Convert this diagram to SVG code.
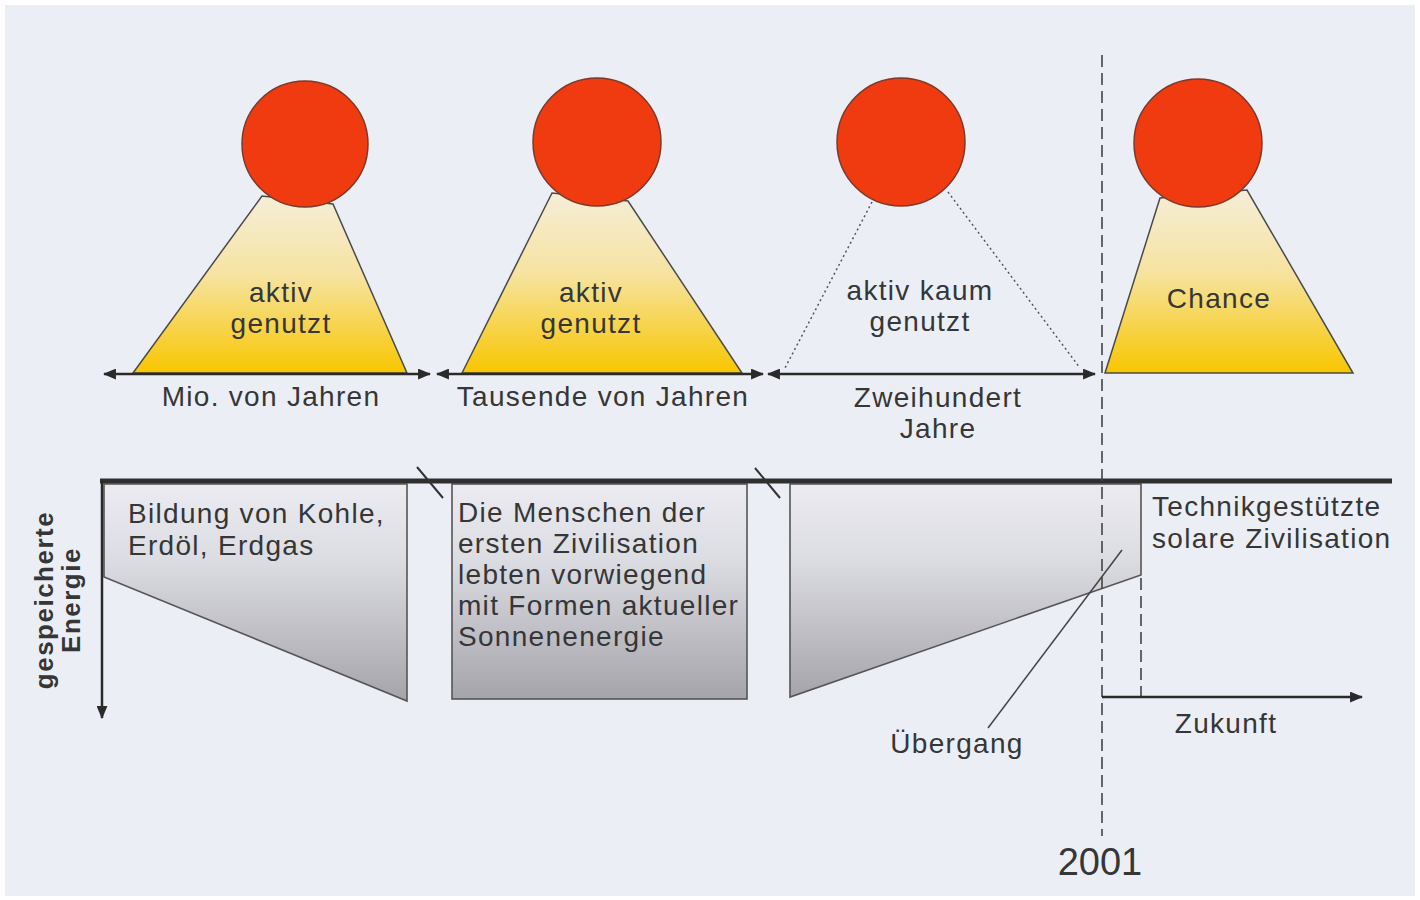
<svg xmlns="http://www.w3.org/2000/svg" width="1420" height="900" viewBox="0 0 1420 900">
<defs>
<linearGradient id="sunGrad" x1="0" y1="0" x2="0" y2="1">
<stop offset="0" stop-color="#f5eed8"/>
<stop offset="0.45" stop-color="#f6e3a0"/>
<stop offset="1" stop-color="#f8c600"/>
</linearGradient>
<linearGradient id="greyGrad" x1="0" y1="0" x2="0" y2="1">
<stop offset="0" stop-color="#ebebf1"/>
<stop offset="0.35" stop-color="#dcdce3"/>
<stop offset="1" stop-color="#a6a4ab"/>
</linearGradient>
<marker id="ah" viewBox="0 0 12 10" refX="11" refY="5" markerWidth="13" markerHeight="11" markerUnits="userSpaceOnUse" orient="auto-start-reverse">
<path d="M0,0 L12,5 L0,10 Z" fill="#2a2a2a"/>
</marker>
</defs>
<style>
.t{font-family:"Liberation Sans",Arial,sans-serif;font-size:28px;fill:#363636;letter-spacing:1.3px}
.m{text-anchor:middle}
.b{font-weight:bold;font-size:26px;letter-spacing:1.5px}
.sun{fill:#f03a10;stroke:#7a3a2a;stroke-width:1.5}
.tri{fill:url(#sunGrad);stroke:#4a4a4a;stroke-width:1.5}
.panel{fill:url(#greyGrad);stroke:#555;stroke-width:1.6}
.arr{stroke:#2a2a2a;stroke-width:2.5;fill:none}
.dash{stroke:#444;stroke-width:1.6;stroke-dasharray:12 6;fill:none}
.dot{stroke:#555;stroke-width:1.5;stroke-dasharray:2 3;fill:none}
</style>
<rect x="0" y="0" width="1420" height="900" fill="#ffffff"/>
<rect x="5" y="5" width="1410" height="891" fill="#eceef6"/>

<g id="stage1">
<polygon class="tri" points="133,373 262,196 333,204 407,373"/>
<circle class="sun" cx="305" cy="144" r="63"/>
<text class="t m" x="281" y="302">aktiv</text>
<text class="t m" x="281" y="333">genutzt</text>
</g>
<g id="stage2">
<polygon class="tri" points="462,373 552,193 628,201 742,373"/>
<circle class="sun" cx="597" cy="142" r="64"/>
<text class="t m" x="591" y="302">aktiv</text>
<text class="t m" x="591" y="333">genutzt</text>
</g>
<g id="stage3">
<polyline class="dot" points="872,202 785,368"/>
<polyline class="dot" points="948,192 1080,368"/>
<circle class="sun" cx="901" cy="142" r="64"/>
<text class="t m" x="920" y="300">aktiv kaum</text>
<text class="t m" x="920" y="331">genutzt</text>
</g>
<g id="stage4">
<polygon class="tri" points="1105,373 1160,198 1247,190 1353,373"/>
<circle class="sun" cx="1198" cy="143" r="64"/>
<text class="t m" x="1219" y="308">Chance</text>
</g>

<g id="panel1">
<polygon class="panel" points="104,484 407,484 407,701 104,577"/>
<text class="t" x="128" y="523">Bildung von Kohle,</text>
<text class="t" x="128" y="555">Erdöl, Erdgas</text>
</g>
<g id="panel2">
<rect class="panel" x="452" y="484" width="295" height="215"/>
<text class="t" x="458" y="522">Die Menschen der</text>
<text class="t" x="458" y="553">ersten Zivilisation</text>
<text class="t" x="458" y="584">lebten vorwiegend</text>
<text class="t" x="458" y="615">mit Formen aktueller</text>
<text class="t" x="458" y="646">Sonnenenergie</text>
</g>
<g id="panel3">
<polygon class="panel" points="790,484 1141,484 1141,575 790,697"/>
</g>
<g id="future">
<text class="t" x="1152" y="516">Technikgestützte</text>
<text class="t" x="1152" y="548">solare Zivilisation</text>
</g>

<g id="connectors">
<line class="arr" x1="104" y1="374" x2="430" y2="374" marker-start="url(#ah)" marker-end="url(#ah)"/>
<line class="arr" x1="437" y1="374" x2="763" y2="374" marker-start="url(#ah)" marker-end="url(#ah)"/>
<line class="arr" x1="768" y1="374" x2="1095" y2="374" marker-start="url(#ah)" marker-end="url(#ah)"/>
<line x1="100" y1="481" x2="1392" y2="481" stroke="#2f2f2f" stroke-width="5"/>
<line class="arr" x1="102" y1="481" x2="102" y2="718" marker-end="url(#ah)"/>
<line x1="417" y1="467" x2="443" y2="498" stroke="#333" stroke-width="2"/>
<line x1="755" y1="468" x2="780" y2="498" stroke="#333" stroke-width="2"/>
<line class="dash" x1="1102" y1="55" x2="1102" y2="836"/>
<line class="dash" x1="1141" y1="578" x2="1141" y2="697"/>
<line class="arr" x1="1102" y1="697" x2="1362" y2="697" marker-end="url(#ah)"/>
<line x1="1122" y1="550" x2="988" y2="728" stroke="#444" stroke-width="1.5"/>
</g>

<g id="labels">
<text class="t m" x="271" y="406">Mio. von Jahren</text>
<text class="t m" x="603" y="406">Tausende von Jahren</text>
<text class="t m" x="938" y="407">Zweihundert</text>
<text class="t m" x="938" y="438">Jahre</text>
<text class="t b m" transform="translate(53,600) rotate(-90)">gespeicherte</text>
<text class="t b m" transform="translate(80,600) rotate(-90)">Energie</text>
<text class="t m" x="957" y="753">Übergang</text>
<text class="t m" x="1226" y="733">Zukunft</text>
<text class="t m" x="1100" y="875" style="font-size:38px;letter-spacing:0">2001</text>
</g>
</svg>
